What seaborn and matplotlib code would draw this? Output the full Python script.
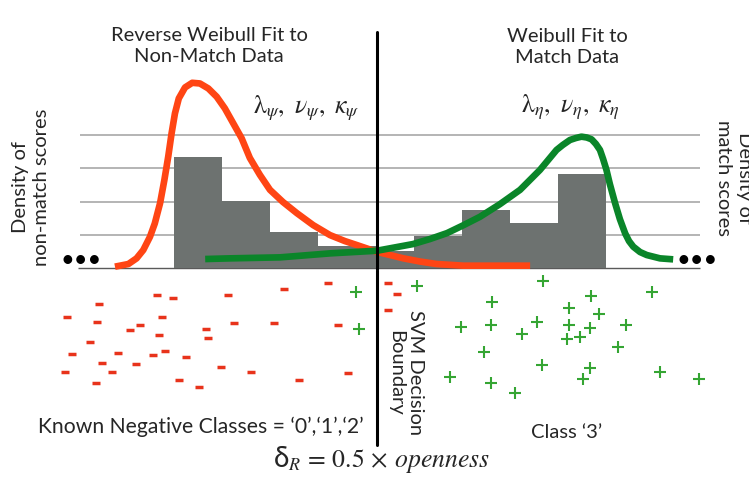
import numpy as np
import pandas as pd
import matplotlib
matplotlib.use("Agg")
import matplotlib.pyplot as plt
import seaborn as sns

# ---- data -----------------------------------------------------------------
# histogram of non-match scores (left of the SVM boundary) and match scores
svm_boundary = 4.22
nonmatch_edges = [0.0, 1.0, 2.0, 3.0, svm_boundary]
nonmatch_heights = [3.34, 2.02, 1.08, 0.66]
match_edges = [svm_boundary, 5.0, 6.0, 7.0, 8.0, 9.0]
match_heights = [0.51, 0.96, 1.74, 1.35, 2.83]

# reverse Weibull fit to the non-match data
rweib_x = [-1.23, -0.95, -0.78, -0.64, -0.50, -0.40, -0.29, -0.20, -0.12, -0.05,
           0.02, 0.10, 0.23, 0.38, 0.54, 0.715, 0.89, 1.06, 1.235, 1.41,
           1.58, 1.79, 2.00, 2.27, 2.56, 2.90, 3.25, 3.56, 3.81, 4.22,
           4.50, 4.78, 5.125, 5.47, 6.03, 7.42]
rweib_y = [0.04, 0.12, 0.29, 0.54, 0.94, 1.34, 1.95, 2.65, 3.35, 4.05,
           4.65, 5.10, 5.43, 5.57, 5.55, 5.40, 5.15, 4.80, 4.35, 3.90,
           3.31, 2.80, 2.35, 1.985, 1.65, 1.29, 0.99, 0.81, 0.69, 0.49,
           0.39, 0.29, 0.195, 0.12, 0.07, 0.07]

# Weibull fit to the match data
weib_x = [0.65, 1.17, 2.21, 3.25, 4.23, 4.98, 5.33, 5.69, 6.02, 6.375,
          6.79, 7.21, 7.625, 7.97, 8.10, 8.25, 8.375, 8.49, 8.60, 8.70,
          8.79, 8.875, 8.94, 9.01, 9.08, 9.19, 9.29, 9.40, 9.48, 9.57,
          9.71, 9.85, 10.125, 10.40]
weib_y = [0.27, 0.29, 0.32, 0.44, 0.52, 0.72, 0.87, 1.05, 1.28, 1.54,
          1.92, 2.35, 2.95, 3.55, 3.70, 3.85, 3.91, 3.95, 3.925, 3.87,
          3.73, 3.55, 3.28, 2.95, 2.53, 1.95, 1.47, 1.04, 0.81, 0.64,
          0.48, 0.39, 0.29, 0.26]

# feature space samples: known negatives ('-') and class '3' ('+')
neg_x = [3.21, 2.29, 1.125, -0.35, -0.02, -1.56, -2.23, -1.60, -0.25, -0.71,
         -0.92, 1.25, 2.08, 3.42, 0.67, -0.31, 0.71, -1.75, -2.125, -1.17,
         -0.19, -0.44, 0.25, -1.50, -0.79, 0.98, -2.27, -1.29, 1.60, 3.625,
         -1.625, 0.10, 0.52, 2.60, 4.46, 4.65, 4.46]
neg_y = [4.06, 3.94, 3.81, 3.81, 3.75, 3.625, 3.35, 3.25, 3.35, 3.19,
         3.08, 3.23, 3.23, 3.19, 3.10, 2.98, 2.92, 2.83, 2.58, 2.60,
         2.65, 2.56, 2.52, 2.40, 2.375, 2.31, 2.21, 2.21, 2.21, 2.19,
         1.98, 2.04, 1.90, 2.04, 4.06, 3.83, 3.50]
pos_x = [3.79, 3.85, 5.06, 7.69, 8.69, 9.96, 6.625, 8.23, 8.85, 5.98,
         6.60, 7.56, 8.23, 8.67, 9.42, 7.25, 8.19, 8.46, 9.25, 6.46,
         7.67, 8.67, 10.125, 5.75, 8.52, 10.94, 6.60, 7.10]
pos_y = [3.875, 3.10, 4.00, 4.10, 3.79, 3.875, 3.67, 3.54, 3.42, 3.15,
         3.19, 3.25, 3.19, 3.125, 3.19, 3.00, 2.90, 2.94, 2.73, 2.625,
         2.35, 2.29, 2.21, 2.10, 2.06, 2.06, 1.98, 1.77]

grid_levels = [1, 2, 3, 4]

# ---- style ----------------------------------------------------------------
sns.set_theme(style="white")
plt.rcParams["font.family"] = ["Lato", "DejaVu Sans"]
plt.rcParams["mathtext.fontset"] = "stix"

BAR = "#6d7270"
RED_CURVE = "#ff4514"
GREEN_CURVE = "#0a8529"
RED_PTS = "#e8331b"
GREEN_PTS = "#35a533"
GRID = "#b4b4b4"

W, H = 749, 478
fig = plt.figure(figsize=(W / 100, H / 100), dpi=100)

XLIM = (-3.625, 11.98)
ax = fig.add_axes([0, 1 - 270 / H, 1, 270 / H])
axf = fig.add_axes([0, 0, 1, 208 / H])


def fx(px):
    return px / W


def fy(py):
    return 1 - py / H


# ---- density panel --------------------------------------------------------
ax.hlines(grid_levels, -1.96, 10.96, color=GRID, lw=1.4, zorder=1)
ax.hlines(0, -2.0, 10.96, color="#5a5a5a", lw=1.0, zorder=1)

for edges, heights in ((nonmatch_edges, nonmatch_heights),
                       (match_edges, match_heights)):
    centers = [(a + b) / 2 for a, b in zip(edges[:-1], edges[1:])]
    hist_df = pd.DataFrame({"score": centers, "density": heights})
    sns.histplot(data=hist_df, x="score", weights="density", bins=list(edges),
                 color=BAR, alpha=1, linewidth=0, ax=ax, zorder=2)

sns.lineplot(x=rweib_x, y=rweib_y, sort=False, estimator=None, color=RED_CURVE,
             lw=4.8, ax=ax, zorder=3, solid_capstyle="butt",
             solid_joinstyle="round")
sns.lineplot(x=weib_x, y=weib_y, sort=False, estimator=None, color=GREEN_CURVE,
             lw=4.8, ax=ax, zorder=4, solid_capstyle="butt",
             solid_joinstyle="round")

ax.axvline(svm_boundary, ymin=0, ymax=(270 - 32) / 270, color="black",
           lw=2.2, zorder=5)
ax.set_xlim(*XLIM)
ax.set_ylim(-2 / 33.25, 268 / 33.25)
ax.axis("off")

# ---- feature space panel --------------------------------------------------
sns.scatterplot(x=neg_x, y=neg_y, marker="_", s=32, linewidth=2.5,
                color=RED_PTS, ax=axf, zorder=3)
sns.scatterplot(x=pos_x, y=pos_y, marker="+", s=80, linewidth=1.5,
                color=GREEN_PTS, ax=axf, zorder=3)
axf.axvline(svm_boundary, ymin=(H - 445) / 208, ymax=1, color="black",
            lw=2.2, zorder=5)
axf.set_xlim(*XLIM)
axf.set_ylim(0, 208 / 48)
axf.axis("off")

# ---- annotations ----------------------------------------------------------
fs = 14.5
fig.text(fx(209), fy(46), "Reverse Weibull Fit to\nNon-Match Data",
         ha="center", va="center", fontsize=fs, linespacing=1.25)
fig.text(fx(567), fy(47), "Weibull Fit to\nMatch Data",
         ha="center", va="center", fontsize=fs, linespacing=1.3)
fig.text(fx(306), fy(113), r"$\mathrm{\lambda}_{\psi},\ \nu_{\psi},\ \kappa_{\psi}$",
         ha="center", va="baseline", fontsize=18.5)
fig.text(fx(570), fy(112), r"$\mathrm{\lambda}_{\eta},\ \nu_{\eta},\ \kappa_{\eta}$",
         ha="center", va="baseline", fontsize=18.5)
fig.text(fx(31), fy(187), "Density of\nnon-match scores", rotation=90,
         ha="center", va="center", fontsize=fs, linespacing=1.3)
fig.text(fx(734), fy(178), "Density of\nmatch scores", rotation=-90,
         ha="center", va="center", fontsize=fs, linespacing=1.3)
fig.text(fx(81), fy(261), "\u2022\u2022\u2022", ha="center", va="center",
         fontsize=17, color="black")
fig.text(fx(697), fy(261), "\u2022\u2022\u2022", ha="center", va="center",
         fontsize=17, color="black")
fig.text(fx(406), fy(373), "SVM Decision\nBoundary", rotation=-90,
         ha="center", va="center", fontsize=fs, linespacing=1.2)
fig.text(fx(201), fy(433), "Known Negative Classes = \u20180\u2019,\u20181\u2019,\u20182\u2019",
         ha="center", va="baseline", fontsize=15.2)
# openness formula: upright sans delta followed by the math part
fig.text(fx(289), fy(467), "\u03b4", ha="right", va="baseline", fontsize=20)
fig.text(fx(288), fy(467),
         r"${}_{\mathit{R}}\,=\,0.5\,\times\,\mathit{openness}$",
         ha="left", va="baseline", fontsize=18.5)
fig.text(fx(567), fy(438), "Class \u20183\u2019", ha="center", va="baseline",
         fontsize=fs)

fig.savefig("out.png", dpi=100)
